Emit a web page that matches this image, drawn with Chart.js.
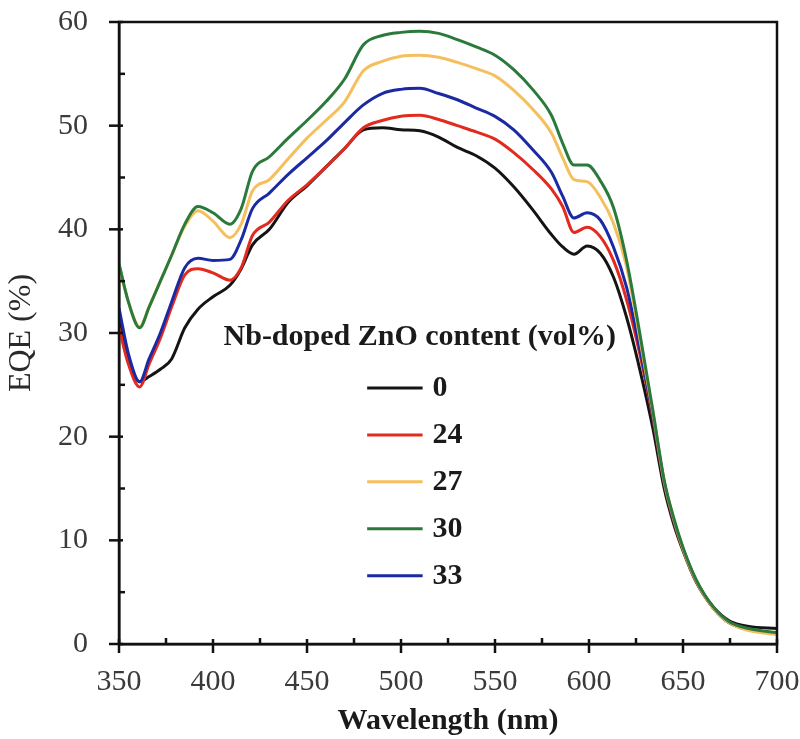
<html>
  <head>
    <script src="https://cdn.jsdelivr.net/npm/chart.js"></script>
    <meta charset="UTF-8" />
    <style>
      body { margin: 0; background: #fff; }
    </style>
  </head>
  <body>
    <div style="width: 800px; height: 739px">
      <canvas id="myChart" width="800" height="739"></canvas>
    </div>
    <script>
      const wavelengths = [350, 355, 361, 366, 372, 378, 385, 392, 400, 409, 415, 421, 430, 440, 450, 460, 470, 480, 490, 500, 510, 520, 530, 540, 550, 560, 570, 580, 586, 592, 599, 606, 613, 620, 627, 634, 640, 645, 650, 657, 666, 675, 685, 700];

      const eqe0 = [31.5, 27.5, 25.3, 25.8, 26.5, 27.5, 30.5, 32.3, 33.5, 34.6, 36.2, 38.5, 40.0, 42.6, 44.2, 46.0, 47.8, 49.6, 49.8, 49.6, 49.5, 48.9, 47.9, 47.1, 45.9, 44.1, 41.9, 39.5, 38.3, 37.6, 38.4, 37.7, 35.4, 31.5, 26.5, 20.8, 15.0, 11.6, 9.0, 6.0, 3.6, 2.2, 1.7, 1.5];
      const eqe24 = [30.5, 27.0, 24.8, 27.0, 29.5, 32.5, 35.6, 36.2, 35.8, 35.1, 36.3, 39.4, 40.7, 42.8, 44.3, 46.0, 47.8, 49.8, 50.5, 50.9, 51.0, 50.6, 50.0, 49.4, 48.7, 47.4, 45.8, 43.9, 42.2, 39.7, 40.2, 39.3, 37.0, 33.2, 28.0, 21.8, 15.5, 11.9, 9.1, 6.0, 3.5, 2.0, 1.4, 1.0];
      const eqe27 = [36.5, 33.0, 30.6, 32.5, 35.0, 37.5, 40.3, 41.8, 40.8, 39.2, 40.5, 43.7, 44.8, 46.8, 48.8, 50.5, 52.3, 55.3, 56.2, 56.7, 56.8, 56.6, 56.1, 55.5, 54.8, 53.4, 51.6, 49.3, 46.9, 44.8, 44.6, 43.1, 40.6, 36.4, 29.5, 22.3, 15.7, 12.1, 9.2, 6.1, 3.5, 2.0, 1.3, 0.9];
      const eqe30 = [36.7, 33.0, 30.5, 32.5, 35.0, 37.5, 40.5, 42.2, 41.6, 40.5, 42.0, 45.6, 47.0, 48.8, 50.5, 52.3, 54.5, 57.8, 58.7, 59.0, 59.1, 58.9, 58.3, 57.6, 56.8, 55.4, 53.5, 51.0, 48.3, 46.2, 46.2, 44.7, 42.1, 37.0, 30.0, 22.5, 15.8, 12.2, 9.3, 6.2, 3.6, 2.1, 1.5, 1.1];
      const eqe33 = [32.4, 28.0, 25.3, 27.5, 30.0, 33.0, 36.3, 37.2, 37.0, 37.1, 39.0, 42.0, 43.5, 45.3, 46.9, 48.5, 50.3, 52.0, 53.1, 53.5, 53.6, 53.1, 52.5, 51.7, 50.9, 49.6, 47.7, 45.5, 43.2, 41.1, 41.6, 40.9, 38.3, 34.4, 28.5, 22.0, 15.6, 12.0, 9.2, 6.1, 3.5, 2.0, 1.4, 1.0];

      const seriesLabels = ["0", "24", "27", "30", "33"];
      const seriesColors = ["#141414", "#e22a1f", "#f5bf5e", "#2b7a3b", "#1b2aa3"];
      const legendTitle = "Nb-doped ZnO content (vol%)";

      const serif = "'Liberation Serif', 'DejaVu Serif', serif";

      const toPoints = ys => ys.map((y, i) => ({ x: wavelengths[i], y }));
      const allSeries = [eqe0, eqe24, eqe27, eqe30, eqe33];
      // drawing order: back to front
      const drawOrder = [3, 2, 4, 1, 0];

      const datasets = drawOrder.map(idx => ({
        label: seriesLabels[idx],
        data: toPoints(allSeries[idx]),
        borderColor: seriesColors[idx],
        backgroundColor: seriesColors[idx],
        borderWidth: 3,
        pointRadius: 0,
        tension: 0.4,
        cubicInterpolationMode: "monotone",
        fill: false,
      }));

      // ticks crossing the axes, box on top/right, and the legend block
      const decorations = {
        id: "decorations",
        afterDraw(chart) {
          const { ctx, chartArea: a, scales } = chart;
          const xs = scales.x, ys = scales.y;
          ctx.save();
          ctx.strokeStyle = "#111";
          ctx.lineWidth = 2.5;
          ctx.strokeRect(a.left, a.top, a.right - a.left, a.bottom - a.top);

          for (let v = 0; v <= 60; v += 5) {
            const py = ys.getPixelForValue(v);
            ctx.beginPath();
            if (v % 10 === 0) {
              ctx.moveTo(a.left - 10, py);
              ctx.lineTo(a.left + 4, py);
            } else {
              ctx.moveTo(a.left, py);
              ctx.lineTo(a.left + 6, py);
            }
            ctx.stroke();
          }
          for (let v = 350; v <= 700; v += 25) {
            const px = xs.getPixelForValue(v);
            ctx.beginPath();
            if (v % 50 === 0) {
              ctx.moveTo(px, a.bottom + 9);
              ctx.lineTo(px, a.bottom - 5);
            } else {
              ctx.moveTo(px, a.bottom);
              ctx.lineTo(px, a.bottom - 6);
            }
            ctx.stroke();
          }

          // legend
          ctx.fillStyle = "#1a1a1a";
          ctx.font = "bold 30px " + serif;
          ctx.textAlign = "center";
          ctx.textBaseline = "middle";
          ctx.fillText(legendTitle, xs.getPixelForValue(510), ys.getPixelForValue(29.6));
          const lx0 = xs.getPixelForValue(482);
          const lx1 = xs.getPixelForValue(511.5);
          seriesLabels.forEach((lab, i) => {
            const py = ys.getPixelForValue(24.7 - i * 4.53);
            ctx.strokeStyle = seriesColors[i];
            ctx.lineWidth = 3;
            ctx.beginPath();
            ctx.moveTo(lx0, py);
            ctx.lineTo(lx1, py);
            ctx.stroke();
            ctx.textAlign = "left";
            ctx.font = "bold 30px " + serif;
            ctx.fillText(lab, lx1 + 10, py);
          });
          ctx.restore();
        },
      };

      const config = {
        type: "line",
        data: { datasets },
        options: {
          responsive: false,
          animation: false,
          layout: { padding: { top: 22, right: 23, left: 0, bottom: 0 } },
          plugins: {
            legend: { display: false },
            tooltip: { enabled: false },
          },
          scales: {
            x: {
              type: "linear",
              min: 350,
              max: 700,
              afterFit: s => {
                s.height = 95;
                s.paddingLeft = 0;
                s.paddingRight = 0;
              },
              grid: { display: false, drawTicks: false },
              border: { display: true, color: "#111", width: 2.5 },
              ticks: {
                stepSize: 50,
                padding: 20,
                maxRotation: 0,
                color: "#3a3a3a",
                font: { family: serif, size: 30 },
              },
              title: {
                display: true,
                text: "Wavelength (nm)",
                color: "#1a1a1a",
                font: { family: serif, size: 30, weight: "bold" },
                padding: { top: 0, bottom: 0 },
              },
            },
            y: {
              min: 0,
              max: 60,
              afterFit: s => {
                s.width = 119;
                s.paddingTop = 0;
                s.paddingBottom = 0;
              },
              grid: { display: false, drawTicks: false },
              border: { display: true, color: "#111", width: 2.5 },
              ticks: {
                stepSize: 10,
                padding: 31,
                color: "#3a3a3a",
                font: { family: serif, size: 30 },
              },
              title: {
                display: true,
                text: "EQE (%)",
                color: "#2a2a2a",
                font: { family: serif, size: 32 },
                padding: { top: 2, bottom: 0 },
              },
            },
          },
        },
        plugins: [decorations],
      };

      new Chart(document.getElementById("myChart"), config);
    </script>
  </body>
</html>
